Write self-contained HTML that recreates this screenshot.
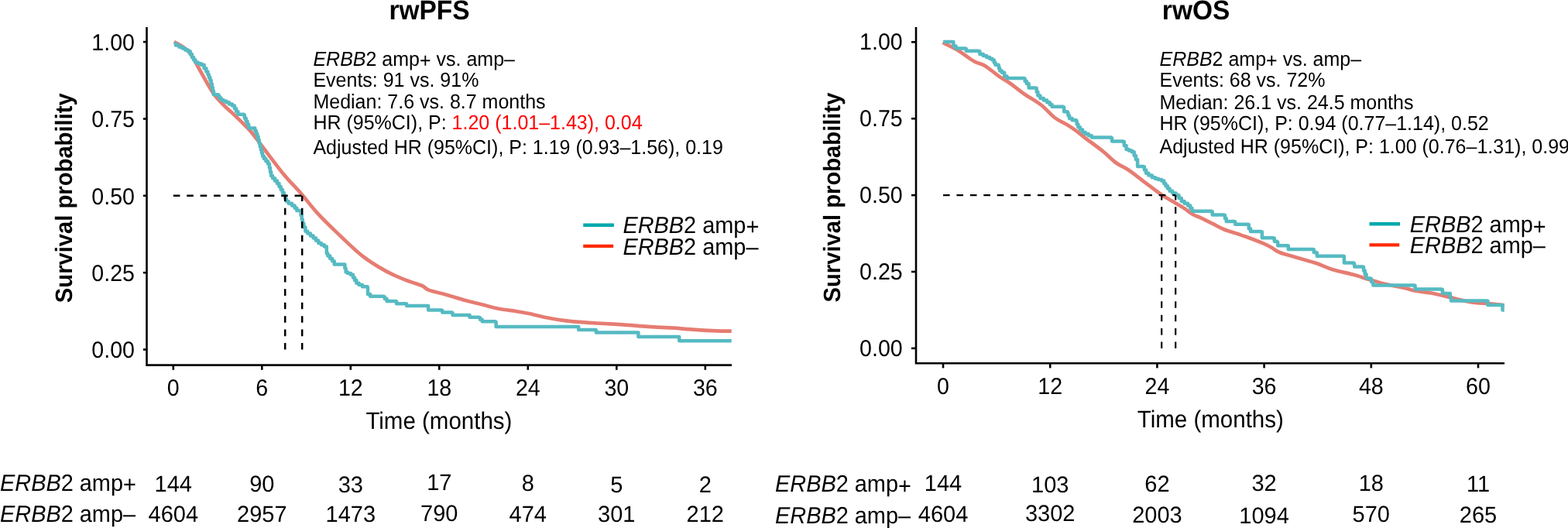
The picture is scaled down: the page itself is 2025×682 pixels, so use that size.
<!DOCTYPE html>
<html lang="en">
<head>
<meta charset="utf-8">
<title>rwPFS and rwOS by ERBB2 amplification</title>
<style>
html,body{margin:0;padding:0;background:#fff;}
body{width:2025px;height:682px;overflow:hidden;}
svg{display:block;font-family:"Liberation Sans", sans-serif;fill:#000;}
text{text-rendering:geometricPrecision;}
</style>
</head>
<body>
<svg width="2025" height="682" viewBox="0 0 2025 682">
<rect width="2025" height="682" fill="#fff"/>
<g id="panel-rwpfs">
<path d="M224.8,54.1 C227.0,55.4 234.3,59.0 238.0,61.8 C241.7,64.5 243.9,66.6 246.8,70.6 C249.7,74.6 252.3,80.1 255.6,86.0 C258.9,91.9 262.9,99.6 266.6,105.8 C270.3,112.0 273.6,118.1 277.6,123.4 C281.6,128.7 286.4,133.3 290.8,137.7 C295.2,142.1 298.5,144.5 304.0,149.8 C309.5,155.1 318.1,163.3 323.7,169.6 C329.3,175.9 330.3,178.2 337.4,187.4 C344.4,196.6 357.6,214.5 366.0,224.8 C374.4,235.1 380.7,240.6 388.0,249.0 C395.3,257.4 402.3,267.0 410.0,275.4 C417.7,283.8 424.5,290.4 434.2,299.6 C443.9,308.8 457.2,322.1 468.0,330.6 C478.8,339.1 489.6,345.3 498.8,350.4 C508.0,355.5 515.3,358.3 523.0,361.4 C530.7,364.5 539.9,366.8 545.0,369.0 C550.1,371.2 548.2,372.6 553.7,374.6 C559.2,376.6 570.3,379.0 578.0,381.2 C585.7,383.4 592.7,385.8 600.0,387.8 C607.3,389.8 614.7,391.5 622.0,393.3 C629.3,395.1 636.7,397.4 644.0,398.8 C651.3,400.2 659.5,401.0 666.0,402.0 C672.5,403.0 676.1,403.6 683.0,405.0 C689.9,406.4 698.4,408.9 707.2,410.5 C716.0,412.1 725.2,413.7 735.8,414.9 C746.4,416.1 759.6,416.8 771.0,417.5 C782.4,418.2 793.0,418.6 804.0,419.3 C815.0,420.0 826.0,421.2 837.0,421.9 C848.0,422.6 860.8,423.1 870.0,423.7 C879.2,424.3 882.8,424.8 892.0,425.4 C901.2,426.0 916.2,427.0 925.0,427.4 C933.8,427.8 941.4,427.6 944.7,427.6" fill="none" stroke="#e67c72" stroke-width="4.7" stroke-linejoin="round"/>
<path d="M224.8,56.3 L227.0,56.3 L227.0,58.5 L231.4,58.5 L231.4,60.7 L233.6,60.7 L235.4,60.7 L235.4,62.5 L239.1,62.5 L239.1,64.4 L242.8,64.4 L242.8,66.2 L244.6,66.2 L245.7,66.2 L245.7,70.1 L247.9,70.1 L247.9,73.9 L249.0,73.9 L250.1,73.9 L250.1,77.2 L252.3,77.2 L252.3,80.5 L253.4,80.5 L255.6,80.5 L255.6,82.2 L260.0,82.2 L260.0,83.8 L262.2,83.8 L263.6,83.8 L263.6,88.2 L266.3,88.2 L266.3,92.6 L267.7,92.6 L268.4,92.6 L268.4,96.3 L269.8,96.3 L269.8,99.9 L271.3,99.9 L271.3,103.6 L272.0,103.6 L272.6,103.6 L272.6,108.3 L273.7,108.3 L273.7,112.9 L274.8,112.9 L274.8,117.6 L275.9,117.6 L275.9,122.3 L276.5,122.3 L282.0,122.3 L282.0,123.4 L283.1,123.4 L283.1,126.2 L285.3,126.2 L285.3,128.9 L286.4,128.9 L288.3,128.9 L288.3,130.6 L292.1,130.6 L292.1,132.2 L294.0,132.2 L295.9,132.2 L295.9,134.4 L299.9,134.4 L299.9,136.6 L301.8,136.6 L302.9,136.6 L302.9,140.3 L305.1,140.3 L305.1,144.0 L307.3,144.0 L307.3,147.7 L308.4,147.7 L315.0,147.7 L315.0,148.7 L315.9,148.7 L315.9,152.7 L317.7,152.7 L317.7,156.8 L319.5,156.8 L319.5,160.8 L320.4,160.8 L321.2,160.8 L321.2,165.4 L322.0,165.4 L328.6,165.4 L329.3,165.4 L329.3,169.1 L330.8,169.1 L330.8,172.7 L332.3,172.7 L332.3,176.4 L333.0,176.4 L333.6,176.4 L333.6,180.8 L334.7,180.8 L334.7,185.2 L335.8,185.2 L335.8,189.6 L336.3,189.6 L336.9,189.6 L336.9,193.6 L338.0,193.6 L338.0,197.7 L339.1,197.7 L339.1,201.7 L339.6,201.7 L340.9,201.7 L340.9,205.0 L343.4,205.0 L343.4,208.3 L346.0,208.3 L346.0,211.6 L347.3,211.6 L347.9,211.6 L347.9,216.7 L349.0,216.7 L349.0,221.9 L350.1,221.9 L350.1,227.0 L350.6,227.0 L352.1,227.0 L352.1,230.3 L355.0,230.3 L355.0,233.6 L357.9,233.6 L357.9,236.9 L359.4,236.9 L360.5,236.9 L360.5,240.9 L362.7,240.9 L362.7,245.0 L364.9,245.0 L364.9,249.0 L366.0,249.0 L366.7,249.0 L366.7,252.7 L368.2,252.7 L368.2,256.3 L369.7,256.3 L369.7,260.0 L370.4,260.0 L372.6,260.0 L372.6,262.8 L377.0,262.8 L377.0,265.5 L379.2,265.5 L380.6,265.5 L380.6,268.8 L383.3,268.8 L383.3,272.0 L384.7,272.0 L388.0,272.0 L388.0,273.0 L388.6,273.0 L388.6,278.2 L389.7,278.2 L389.7,283.4 L390.8,283.4 L390.8,288.6 L391.3,288.6 L392.3,288.6 L392.3,293.6 L394.4,293.6 L394.4,298.7 L395.4,298.7 L397.2,298.7 L397.2,301.6 L400.9,301.6 L400.9,304.6 L404.6,304.6 L404.6,307.5 L406.4,307.5 L408.0,307.5 L408.0,310.8 L411.3,310.8 L411.3,314.1 L413.0,314.1 L414.9,314.1 L414.9,316.3 L418.8,316.3 L418.8,318.5 L420.7,318.5 L421.8,318.5 L421.8,327.3 L423.3,327.3 L423.3,330.6 L426.2,330.6 L426.2,333.9 L429.1,333.9 L429.1,337.2 L430.6,337.2 L431.7,337.2 L431.7,341.6 L444.9,341.6 L445.4,341.6 L445.4,346.6 L446.6,346.6 L446.6,351.5 L447.1,351.5 L449.0,351.5 L449.0,353.1 L452.9,353.1 L452.9,354.8 L454.8,354.8 L455.9,354.8 L455.9,358.5 L458.1,358.5 L458.1,362.1 L460.3,362.1 L460.3,365.8 L461.4,365.8 L463.6,365.8 L463.6,368.0 L468.0,368.0 L468.0,370.2 L470.2,370.2 L474.6,370.2 L474.6,371.3 L475.0,371.3 L475.0,380.0 L478.1,380.0 L478.1,382.7 L481.2,382.7 L495.5,382.7 L495.5,383.4 L496.9,383.4 L496.9,386.1 L499.6,386.1 L499.6,388.9 L501.0,388.9 L510.9,388.9 L510.9,389.3 L512.0,389.3 L512.0,392.2 L524.0,392.2 L524.0,392.6 L525.1,392.6 L525.1,395.0 L526.2,395.0 L551.5,395.0 L553.1,395.0 L553.1,400.5 L554.8,400.5 L570.2,400.5 L570.2,401.0 L571.3,401.0 L571.3,403.6 L572.4,403.6 L583.4,403.6 L583.4,404.0 L584.5,404.0 L584.5,406.9 L585.6,406.9 L605.4,406.9 L605.4,407.1 L606.5,407.1 L606.5,409.8 L607.6,409.8 L618.6,409.8 L618.6,410.2 L620.0,410.2 L620.0,412.8 L622.7,412.8 L622.7,415.3 L624.1,415.3 L639.5,415.3 L639.5,415.7 L640.6,415.7 L640.6,421.9 L641.7,421.9 L746.8,421.9 L746.8,422.1 L747.2,422.1 L747.2,425.9 L768.8,425.9 L768.8,426.3 L769.9,426.3 L769.9,429.6 L823.7,429.6 L824.4,429.6 L824.4,434.9 L876.5,434.9 L877.2,434.9 L877.2,440.2 L944.7,440.2" fill="none" stroke="#56bac2" stroke-width="4.5" stroke-linejoin="round"/>
<path d="M223.8,252.8 H390.2" stroke="#000" stroke-width="2.5" stroke-dasharray="8.6 8.82" fill="none"/>
<path d="M368.2,451.6 V252.8" stroke="#000" stroke-width="2.5" stroke-dasharray="8.6 8.82" fill="none"/>
<path d="M390.2,451.6 V252.8" stroke="#000" stroke-width="2.5" stroke-dasharray="8.6 8.82" fill="none"/>
<path d="M189.5,35.1 V471.6 H945" fill="none" stroke="#000" stroke-width="2.6" stroke-linejoin="miter"/>
<path d="M184.9,54.1 H189.5" stroke="#000" stroke-width="2.6"/>
<text transform="translate(174.0,65.0) scale(1,1.05)" font-size="28.6" text-anchor="end">1.00</text>
<path d="M184.9,153.5 H189.5" stroke="#000" stroke-width="2.6"/>
<text transform="translate(174.0,164.4) scale(1,1.05)" font-size="28.6" text-anchor="end">0.75</text>
<path d="M184.9,252.8 H189.5" stroke="#000" stroke-width="2.6"/>
<text transform="translate(174.0,263.7) scale(1,1.05)" font-size="28.6" text-anchor="end">0.50</text>
<path d="M184.9,352.2 H189.5" stroke="#000" stroke-width="2.6"/>
<text transform="translate(174.0,363.1) scale(1,1.05)" font-size="28.6" text-anchor="end">0.25</text>
<path d="M184.9,451.5 H189.5" stroke="#000" stroke-width="2.6"/>
<text transform="translate(174.0,462.4) scale(1,1.05)" font-size="28.6" text-anchor="end">0.00</text>
<path d="M223.8,471.6 V477.8" stroke="#000" stroke-width="2.6"/>
<text transform="translate(223.8,511.2) scale(1,1.05)" font-size="28.6" text-anchor="middle">0</text>
<path d="M338.3,471.6 V477.8" stroke="#000" stroke-width="2.6"/>
<text transform="translate(338.3,511.2) scale(1,1.05)" font-size="28.6" text-anchor="middle">6</text>
<path d="M452.8,471.6 V477.8" stroke="#000" stroke-width="2.6"/>
<text transform="translate(452.8,511.2) scale(1,1.05)" font-size="28.6" text-anchor="middle">12</text>
<path d="M567.3,471.6 V477.8" stroke="#000" stroke-width="2.6"/>
<text transform="translate(567.3,511.2) scale(1,1.05)" font-size="28.6" text-anchor="middle">18</text>
<path d="M681.8,471.6 V477.8" stroke="#000" stroke-width="2.6"/>
<text transform="translate(681.8,511.2) scale(1,1.05)" font-size="28.6" text-anchor="middle">24</text>
<path d="M796.3,471.6 V477.8" stroke="#000" stroke-width="2.6"/>
<text transform="translate(796.3,511.2) scale(1,1.05)" font-size="28.6" text-anchor="middle">30</text>
<path d="M910.8,471.6 V477.8" stroke="#000" stroke-width="2.6"/>
<text transform="translate(910.8,511.2) scale(1,1.05)" font-size="28.6" text-anchor="middle">36</text>
<text transform="translate(554.5,24.9) scale(1,1.05)" font-size="33.5" text-anchor="middle" font-weight="bold">rwPFS</text>
<text transform="translate(93.2,255.7) rotate(-90) scale(1,1.05)" font-size="29.2" text-anchor="middle" font-weight="bold">Survival probability</text>
<text transform="translate(566.9,554.1) scale(1,1.05)" font-size="29.5" text-anchor="middle">Time (months)</text>
<text transform="translate(404.4,85.0) scale(1,1.05)" font-size="25"><tspan font-style="italic">ERBB</tspan>2 amp<tspan dy="1.9">+</tspan><tspan dy="-1.9"> vs. amp–</tspan></text>
<text transform="translate(404.4,112.0) scale(1,1.05)" font-size="25">Events: 91 vs. 91%</text>
<text transform="translate(404.4,140.0) scale(1,1.05)" font-size="25">Median: 7.6 vs. 8.7 months</text>
<text transform="translate(404.4,167.0) scale(1,1.05)" font-size="25">HR (95%CI), P: <tspan fill="#ff0000">1.20 (1.01–1.43), 0.04</tspan></text>
<text transform="translate(404.4,199.0) scale(1,1.05)" font-size="25">Adjusted HR (95%CI), P: 1.19 (0.93–1.56), 0.19</text>
<path d="M753.2,290.7 H792.9" stroke="#00a9ad" stroke-width="4.5"/>
<path d="M753.2,317.9 H792.1" stroke="#ff2a00" stroke-width="4.3"/>
<text transform="translate(804.4,300.6) scale(1,1.05)" font-size="28.9"><tspan font-style="italic">ERBB</tspan>2 amp<tspan dy="2.2">+</tspan></text>
<text transform="translate(804.4,328.6) scale(1,1.05)" font-size="28.9"><tspan font-style="italic">ERBB</tspan>2 amp–</text>
<text transform="translate(0.0,634.0) scale(1,1.05)" font-size="28.9"><tspan font-style="italic">ERBB</tspan>2 amp<tspan dy="2.2">+</tspan></text>
<text transform="translate(0.0,674.0) scale(1,1.05)" font-size="28.9"><tspan font-style="italic">ERBB</tspan>2 amp–</text>
<text transform="translate(223.8,635.0) scale(1,1.02)" font-size="29" text-anchor="middle">144</text>
<text transform="translate(223.8,674.0) scale(1,1.02)" font-size="29" text-anchor="middle">4604</text>
<text transform="translate(338.3,635.0) scale(1,1.02)" font-size="29" text-anchor="middle">90</text>
<text transform="translate(338.3,674.0) scale(1,1.02)" font-size="29" text-anchor="middle">2957</text>
<text transform="translate(452.8,636.4) scale(1,1.02)" font-size="29" text-anchor="middle">33</text>
<text transform="translate(452.8,674.0) scale(1,1.02)" font-size="29" text-anchor="middle">1473</text>
<text transform="translate(567.3,633.2) scale(1,1.02)" font-size="29" text-anchor="middle">17</text>
<text transform="translate(567.3,673.1) scale(1,1.02)" font-size="29" text-anchor="middle">790</text>
<text transform="translate(681.8,634.3) scale(1,1.02)" font-size="29" text-anchor="middle">8</text>
<text transform="translate(681.8,673.7) scale(1,1.02)" font-size="29" text-anchor="middle">474</text>
<text transform="translate(796.3,636.4) scale(1,1.02)" font-size="29" text-anchor="middle">5</text>
<text transform="translate(796.3,674.0) scale(1,1.02)" font-size="29" text-anchor="middle">301</text>
<text transform="translate(910.8,635.6) scale(1,1.02)" font-size="29" text-anchor="middle">2</text>
<text transform="translate(910.8,674.0) scale(1,1.02)" font-size="29" text-anchor="middle">212</text>
</g>
<g id="panel-rwos">
<path d="M1217.4,55.0 C1220.6,56.6 1230.1,60.8 1236.8,64.8 C1243.5,68.8 1251.7,75.7 1257.6,79.0 C1263.5,82.3 1266.7,81.7 1272.0,84.9 C1277.3,88.1 1284.0,94.2 1289.5,98.1 C1295.0,101.9 1299.5,104.2 1305.0,108.0 C1310.5,111.8 1315.9,116.6 1322.5,121.2 C1329.1,125.8 1337.9,130.4 1344.5,135.5 C1351.1,140.6 1356.6,147.8 1362.1,152.0 C1367.6,156.2 1372.7,157.9 1377.5,160.8 C1382.3,163.7 1386.6,166.6 1390.7,169.6 C1394.8,172.6 1396.5,174.3 1402.0,178.6 C1407.5,182.8 1417.4,189.8 1424.0,195.1 C1430.6,200.4 1436.1,206.5 1441.6,210.5 C1447.1,214.5 1450.8,215.1 1457.0,219.3 C1463.2,223.5 1471.8,230.4 1479.0,235.8 C1486.2,241.2 1494.0,247.4 1500.0,251.5 C1506.0,255.6 1509.8,257.4 1514.7,260.3 C1519.6,263.2 1524.9,266.3 1529.3,269.1 C1533.7,271.9 1537.3,275.1 1541.0,277.2 C1544.7,279.3 1547.1,279.7 1551.3,281.6 C1555.5,283.6 1561.1,286.5 1566.0,288.9 C1570.9,291.3 1574.5,293.8 1580.6,296.2 C1586.7,298.6 1596.5,301.5 1602.6,303.6 C1608.7,305.7 1612.4,306.9 1617.3,308.7 C1622.2,310.5 1627.8,312.8 1632.0,314.6 C1636.2,316.4 1638.8,317.8 1642.2,319.7 C1645.6,321.6 1646.7,323.8 1652.4,326.0 C1658.1,328.2 1668.5,330.8 1676.6,333.2 C1684.7,335.6 1693.5,337.8 1700.8,340.3 C1708.1,342.8 1712.8,345.6 1720.5,348.0 C1728.2,350.4 1738.8,352.4 1746.9,354.6 C1755.0,356.8 1761.6,359.1 1768.9,361.2 C1776.2,363.3 1783.6,365.6 1790.9,367.3 C1798.2,369.1 1806.7,370.3 1812.9,371.7 C1819.2,373.1 1822.5,374.7 1828.4,375.8 C1834.3,376.9 1841.6,377.3 1848.2,378.5 C1854.8,379.7 1861.4,381.3 1868.0,382.9 C1874.6,384.5 1881.6,386.5 1887.8,387.9 C1894.0,389.2 1899.5,390.3 1905.4,391.0 C1911.3,391.7 1916.8,391.6 1923.0,392.1 C1929.2,392.7 1939.4,393.9 1942.7,394.3" fill="none" stroke="#e67c72" stroke-width="4.7" stroke-linejoin="round"/>
<path d="M1218.1,54.1 L1230.2,54.1 L1231.3,54.1 L1231.3,59.6 L1232.4,59.6 L1234.6,59.6 L1234.6,62.4 L1236.8,62.4 L1246.7,62.4 L1246.7,62.9 L1247.8,62.9 L1247.8,65.7 L1248.9,65.7 L1263.2,65.7 L1263.2,66.2 L1265.4,66.2 L1265.4,70.1 L1267.6,70.1 L1269.8,70.1 L1269.8,72.0 L1274.2,72.0 L1274.2,73.9 L1276.4,73.9 L1278.1,73.9 L1278.1,75.8 L1281.4,75.8 L1281.4,77.6 L1283.0,77.6 L1283.8,77.6 L1283.8,80.7 L1285.4,80.7 L1285.4,83.8 L1286.2,83.8 L1289.5,83.8 L1289.5,84.9 L1290.0,84.9 L1290.0,88.2 L1291.2,88.2 L1291.2,91.5 L1291.7,91.5 L1293.9,91.5 L1293.9,93.7 L1296.1,93.7 L1297.2,93.7 L1297.2,98.5 L1298.3,98.5 L1300.5,98.5 L1300.5,100.9 L1302.7,100.9 L1322.5,100.9 L1322.5,101.4 L1323.6,101.4 L1323.6,104.7 L1325.8,104.7 L1325.8,108.0 L1326.9,108.0 L1328.6,108.0 L1328.6,113.5 L1330.2,113.5 L1337.9,113.5 L1337.9,114.1 L1338.7,114.1 L1338.7,118.8 L1340.4,118.8 L1340.4,123.4 L1341.2,123.4 L1343.4,123.4 L1343.4,127.1 L1345.6,127.1 L1347.8,127.1 L1347.8,129.6 L1352.2,129.6 L1352.2,132.2 L1354.4,132.2 L1355.8,132.2 L1355.8,134.9 L1358.5,134.9 L1358.5,137.7 L1359.9,137.7 L1373.1,137.7 L1373.1,138.8 L1374.2,138.8 L1374.2,144.3 L1378.6,144.3 L1378.6,145.4 L1379.4,145.4 L1379.4,149.2 L1381.1,149.2 L1381.1,153.0 L1381.9,153.0 L1384.7,153.0 L1384.7,155.3 L1387.4,155.3 L1389.9,155.3 L1389.9,156.6 L1390.7,156.6 L1390.7,160.4 L1392.4,160.4 L1392.4,164.3 L1393.2,164.3 L1394.8,164.3 L1394.8,167.6 L1398.1,167.6 L1398.1,170.9 L1399.8,170.9 L1401.8,170.9 L1401.8,173.1 L1405.8,173.1 L1405.8,175.3 L1409.9,175.3 L1409.9,177.5 L1411.9,177.5 L1435.0,177.5 L1435.0,178.6 L1436.1,178.6 L1436.1,182.5 L1437.2,182.5 L1450.4,182.5 L1450.4,183.0 L1451.8,183.0 L1451.8,187.9 L1454.5,187.9 L1454.5,192.9 L1455.9,192.9 L1457.8,192.9 L1457.8,194.6 L1461.7,194.6 L1461.7,196.2 L1463.6,196.2 L1464.7,196.2 L1464.7,201.1 L1466.9,201.1 L1466.9,206.1 L1468.0,206.1 L1469.1,206.1 L1469.1,214.9 L1476.8,214.9 L1476.8,215.5 L1477.9,215.5 L1477.9,219.6 L1480.1,219.6 L1480.1,223.7 L1481.2,223.7 L1483.4,223.7 L1483.4,226.4 L1487.8,226.4 L1487.8,229.2 L1490.0,229.2 L1492.0,229.2 L1492.0,230.7 L1496.0,230.7 L1496.0,232.1 L1500.1,232.1 L1500.1,233.6 L1502.1,233.6 L1503.2,233.6 L1503.2,236.9 L1505.4,236.9 L1505.4,240.2 L1506.5,240.2 L1507.9,240.2 L1507.9,243.5 L1510.6,243.5 L1510.6,246.8 L1512.0,246.8 L1514.2,246.8 L1514.2,249.6 L1518.6,249.6 L1518.6,252.3 L1520.8,252.3 L1522.5,252.3 L1522.5,256.1 L1525.8,256.1 L1525.8,260.0 L1527.4,260.0 L1529.6,260.0 L1529.6,262.8 L1534.0,262.8 L1534.0,265.5 L1536.2,265.5 L1537.3,265.5 L1537.3,269.1 L1539.5,269.1 L1539.5,272.7 L1540.6,272.7 L1564.7,272.7 L1564.7,273.2 L1565.7,273.2 L1565.7,277.6 L1566.6,277.6 L1580.9,277.6 L1580.9,278.0 L1582.0,278.0 L1582.0,282.0 L1583.7,282.0 L1583.7,286.0 L1585.3,286.0 L1594.1,286.0 L1594.1,286.4 L1595.2,286.4 L1595.2,289.7 L1611.7,289.7 L1611.7,290.1 L1612.8,290.1 L1612.8,295.2 L1613.9,295.2 L1615.0,295.2 L1615.0,299.1 L1628.6,299.1 L1628.6,299.6 L1629.9,299.6 L1629.9,307.3 L1644.7,307.3 L1644.7,307.7 L1645.8,307.7 L1645.8,311.7 L1649.1,311.7 L1649.1,312.8 L1650.2,312.8 L1650.2,317.2 L1662.9,317.2 L1662.9,317.6 L1663.8,317.6 L1663.8,322.0 L1695.9,322.0 L1695.9,322.2 L1696.8,322.2 L1696.8,326.0 L1699.7,326.0 L1699.7,326.4 L1700.8,326.4 L1700.8,330.8 L1734.8,330.8 L1734.8,331.0 L1735.9,331.0 L1735.9,339.6 L1748.1,339.6 L1748.1,340.4 L1749.2,340.4 L1749.2,344.4 L1760.2,344.4 L1760.2,344.8 L1761.0,344.8 L1761.0,349.6 L1762.7,349.6 L1762.7,354.3 L1763.5,354.3 L1764.6,354.3 L1764.6,359.4 L1765.7,359.4 L1770.1,359.4 L1770.1,360.5 L1771.2,360.5 L1771.2,364.2 L1772.3,364.2 L1773.4,364.2 L1773.4,368.6 L1774.5,368.6 L1826.6,368.6 L1826.6,368.8 L1827.5,368.8 L1827.5,373.6 L1861.8,373.6 L1861.8,373.9 L1862.9,373.9 L1862.9,378.9 L1871.2,378.9 L1871.2,379.1 L1872.8,379.1 L1872.8,384.0 L1874.0,384.0 L1874.0,388.6 L1875.2,388.6 L1920.3,388.6 L1920.3,388.8 L1921.4,388.8 L1921.4,394.1 L1939.4,394.1 L1939.4,394.3 L1940.5,394.3 L1940.5,400.5 L1942.7,400.5" fill="none" stroke="#56bac2" stroke-width="4.5" stroke-linejoin="round"/>
<path d="M1218,252.2 H1518.2" stroke="#000" stroke-width="2.2" stroke-dasharray="8.6 8.82" fill="none"/>
<path d="M1500.2,450.1 V252.2" stroke="#000" stroke-width="2.2" stroke-dasharray="8.6 8.82" fill="none"/>
<path d="M1518.2,450.1 V252.2" stroke="#000" stroke-width="2.2" stroke-dasharray="8.6 8.82" fill="none"/>
<path d="M1183.0,35.1 V469.2 H1943" fill="none" stroke="#000" stroke-width="2.6" stroke-linejoin="miter"/>
<path d="M1177.0,54.3 H1183.0" stroke="#000" stroke-width="2.6"/>
<text transform="translate(1165.7,64.2) scale(1,1.05)" font-size="28.6" text-anchor="end">1.00</text>
<path d="M1177.0,153.2 H1183.0" stroke="#000" stroke-width="2.6"/>
<text transform="translate(1165.7,163.1) scale(1,1.05)" font-size="28.6" text-anchor="end">0.75</text>
<path d="M1177.0,252.1 H1183.0" stroke="#000" stroke-width="2.6"/>
<text transform="translate(1165.7,262.0) scale(1,1.05)" font-size="28.6" text-anchor="end">0.50</text>
<path d="M1177.0,351 H1183.0" stroke="#000" stroke-width="2.6"/>
<text transform="translate(1165.7,360.9) scale(1,1.05)" font-size="28.6" text-anchor="end">0.25</text>
<path d="M1177.0,449.9 H1183.0" stroke="#000" stroke-width="2.6"/>
<text transform="translate(1165.7,459.8) scale(1,1.05)" font-size="28.6" text-anchor="end">0.00</text>
<path d="M1218.0,469.2 V475.4" stroke="#000" stroke-width="2.6"/>
<text transform="translate(1218.0,508.8) scale(1,1.05)" font-size="28.6" text-anchor="middle">0</text>
<path d="M1356.2,469.2 V475.4" stroke="#000" stroke-width="2.6"/>
<text transform="translate(1356.2,508.8) scale(1,1.05)" font-size="28.6" text-anchor="middle">12</text>
<path d="M1494.4,469.2 V475.4" stroke="#000" stroke-width="2.6"/>
<text transform="translate(1494.4,508.8) scale(1,1.05)" font-size="28.6" text-anchor="middle">24</text>
<path d="M1632.6,469.2 V475.4" stroke="#000" stroke-width="2.6"/>
<text transform="translate(1632.6,508.8) scale(1,1.05)" font-size="28.6" text-anchor="middle">36</text>
<path d="M1770.8,469.2 V475.4" stroke="#000" stroke-width="2.6"/>
<text transform="translate(1770.8,508.8) scale(1,1.05)" font-size="28.6" text-anchor="middle">48</text>
<path d="M1909.0,469.2 V475.4" stroke="#000" stroke-width="2.6"/>
<text transform="translate(1909.0,508.8) scale(1,1.05)" font-size="28.6" text-anchor="middle">60</text>
<text transform="translate(1544.6,24.9) scale(1,1.05)" font-size="33.5" text-anchor="middle" font-weight="bold">rwOS</text>
<text transform="translate(1085.0,255.0) rotate(-90) scale(1,1.05)" font-size="29.2" text-anchor="middle" font-weight="bold">Survival probability</text>
<text transform="translate(1563.3,552.0) scale(1,1.05)" font-size="29.5" text-anchor="middle">Time (months)</text>
<text transform="translate(1497.5,85.0) scale(1,1.05)" font-size="25"><tspan font-style="italic">ERBB</tspan>2 amp<tspan dy="1.9">+</tspan><tspan dy="-1.9"> vs. amp–</tspan></text>
<text transform="translate(1497.5,112.0) scale(1,1.05)" font-size="25">Events: 68 vs. 72%</text>
<text transform="translate(1497.5,141.0) scale(1,1.05)" font-size="25">Median: 26.1 vs. 24.5 months</text>
<text transform="translate(1497.5,168.0) scale(1,1.05)" font-size="25">HR (95%CI), P: 0.94 (0.77–1.14), 0.52</text>
<text transform="translate(1497.5,198.0) scale(1,1.05)" font-size="25">Adjusted HR (95%CI), P: 1.00 (0.76–1.31), 0.99</text>
<path d="M1768.5,289.2 H1808" stroke="#00a9ad" stroke-width="4.5"/>
<path d="M1768.5,316.3 H1807.2" stroke="#ff2a00" stroke-width="4.3"/>
<text transform="translate(1820.8,300.4) scale(1,1.05)" font-size="28.9"><tspan font-style="italic">ERBB</tspan>2 amp<tspan dy="2.2">+</tspan></text>
<text transform="translate(1820.8,327.2) scale(1,1.05)" font-size="28.9"><tspan font-style="italic">ERBB</tspan>2 amp–</text>
<text transform="translate(1001.0,635.2) scale(1,1.05)" font-size="28.9"><tspan font-style="italic">ERBB</tspan>2 amp<tspan dy="2.2">+</tspan></text>
<text transform="translate(1001.0,675.9) scale(1,1.05)" font-size="28.9"><tspan font-style="italic">ERBB</tspan>2 amp–</text>
<text transform="translate(1218.0,634.0) scale(1,1.02)" font-size="29" text-anchor="middle">144</text>
<text transform="translate(1218.0,674.0) scale(1,1.02)" font-size="29" text-anchor="middle">4604</text>
<text transform="translate(1356.2,636.0) scale(1,1.02)" font-size="29" text-anchor="middle">103</text>
<text transform="translate(1356.2,673.4) scale(1,1.02)" font-size="29" text-anchor="middle">3302</text>
<text transform="translate(1494.4,635.2) scale(1,1.02)" font-size="29" text-anchor="middle">62</text>
<text transform="translate(1494.4,674.9) scale(1,1.02)" font-size="29" text-anchor="middle">2003</text>
<text transform="translate(1632.6,634.0) scale(1,1.02)" font-size="29" text-anchor="middle">32</text>
<text transform="translate(1632.6,676.1) scale(1,1.02)" font-size="29" text-anchor="middle">1094</text>
<text transform="translate(1770.8,634.0) scale(1,1.02)" font-size="29" text-anchor="middle">18</text>
<text transform="translate(1770.8,673.7) scale(1,1.02)" font-size="29" text-anchor="middle">570</text>
<text transform="translate(1909.0,635.2) scale(1,1.02)" font-size="29" text-anchor="middle">11</text>
<text transform="translate(1909.0,674.9) scale(1,1.02)" font-size="29" text-anchor="middle">265</text>
</g>
</svg>
</body>
</html>
